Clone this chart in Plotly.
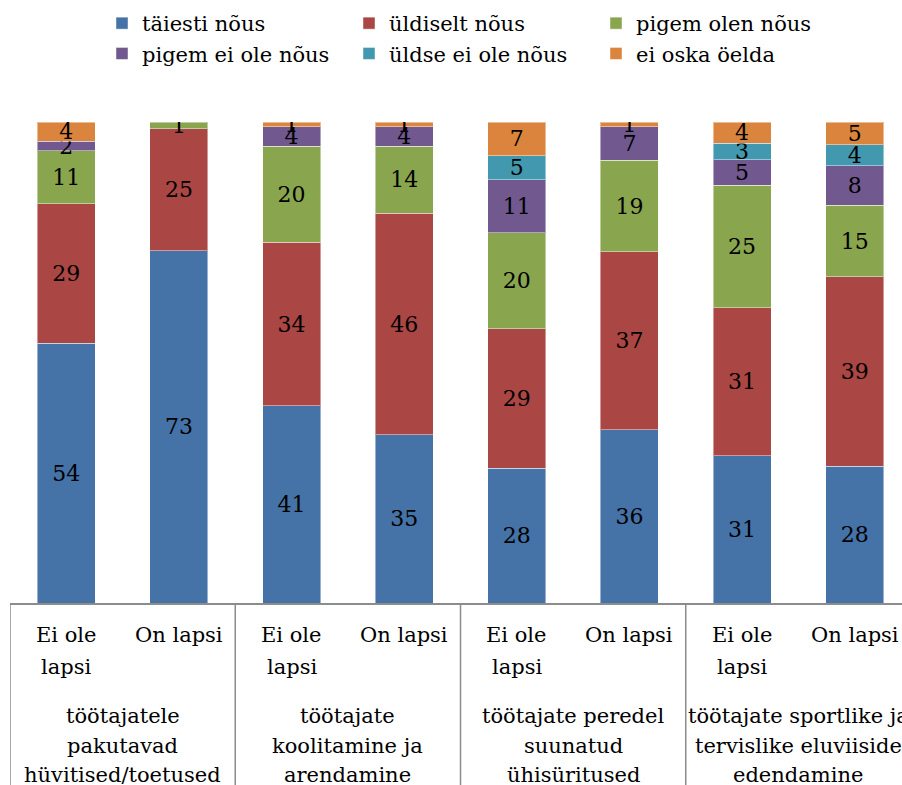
import plotly.graph_objects as go

series_names = ["täiesti nõus", "üldiselt nõus", "pigem olen nõus",
                "pigem ei ole nõus", "üldse ei ole nõus", "ei oska öelda"]
colors = ["#4572A7", "#AA4643", "#89A54E", "#71588F", "#4198AF", "#DB843D"]

subcats = ["Ei ole\nlapsi", "On lapsi"]
groups = ["töötajatele\npakutavad\nhüvitised/toetused",
          "töötajate\nkoolitamine ja\narendamine",
          "töötajate peredel\nsuunatud\nühisüritused",
          "töötajate sportlike ja\ntervislike eluviiside\nedendamine"]

# values per series, 8 bars (group x subcategory)
taiesti = [54, 73.2, 41, 35, 28, 36, 30.6, 28.4]
uldiselt = [29, 25.4, 34, 46, 29, 37, 30.8, 39.4]
pigem_olen = [11, 1.4, 20, 14, 20, 19, 25.4, 14.9]
pigem_ei = [2, 0, 4, 4, 11, 7, 5.4, 8.2]
uldse_ei = [0, 0, 0, 0, 5, 0, 3.4, 4.4]
ei_oska = [4, 0, 1, 1, 7, 1, 4.4, 4.7]
series = [taiesti, uldiselt, pigem_olen, pigem_ei, uldse_ei, ei_oska]

serif = "DejaVu Serif"
n = len(groups) * len(subcats)
xs = list(range(n))

fig = go.Figure()
for name, col, vals in zip(series_names, colors, series):
    yv = [v if v > 0 else None for v in vals]
    fig.add_trace(go.Bar(
        x=xs, y=yv, name=name,
        marker=dict(color=col, line=dict(color="rgba(255,255,255,0.45)", width=1)),
        width=0.515,
        text=[f"{round(v)}" if v > 0 else "" for v in vals],
        textposition="inside", insidetextanchor="middle",
        constraintext="none", textangle=0,
        insidetextfont=dict(family=serif, size=22, color="black"),
        hoverinfo="skip",
    ))

annotations = []
# subcategory labels
for i in xs:
    lines = subcats[i % 2].split("\n")
    for k, ln in enumerate(lines):
        annotations.append(dict(
            x=i, xref="x", y=-(32 + 32 * k) / 481, yref="paper",
            text=ln, showarrow=False, yanchor="middle", xanchor="center",
            font=dict(family=serif, size=21, color="black")))
# group labels
for g, lab in enumerate(groups):
    for k, ln in enumerate(lab.split("\n")):
        annotations.append(dict(
            x=2 * g + 0.5, xref="x", y=-(113 + 29.5 * k) / 481, yref="paper",
            text=ln, showarrow=False, yanchor="middle", xanchor="center",
            font=dict(family=serif, size=21, color="black")))

shapes = []
for g in range(len(groups)):
    shapes.append(dict(type="line", xref="x", yref="paper",
                       x0=2 * g - 0.5, x1=2 * g - 0.5, y0=0, y1=-0.40,
                       line=dict(color="#8C8C8C", width=1.5)))

fig.update_layout(
    width=902, height=785,
    barmode="stack",
    plot_bgcolor="white", paper_bgcolor="white",
    margin=dict(l=10, r=0, t=122, b=182),
    font=dict(family=serif, size=21, color="black"),
    xaxis=dict(range=[-0.5, 7.42], showticklabels=False, ticks="",
               showgrid=False, zeroline=False, showline=True,
               linecolor="#8C8C8C", linewidth=1.5),
    yaxis=dict(range=[0, 100], visible=False, showgrid=False),
    legend=dict(orientation="h", xref="container", yref="container",
                x=102 / 902, y=1 - 3 / 785, xanchor="left", yanchor="top",
                entrywidth=202, entrywidthmode="pixels",
                font=dict(family=serif, size=21, color="black"),
                traceorder="normal", bgcolor="rgba(0,0,0,0)"),
    annotations=annotations,
    shapes=shapes,
    showlegend=True,
)

fig.write_html("out.html")
